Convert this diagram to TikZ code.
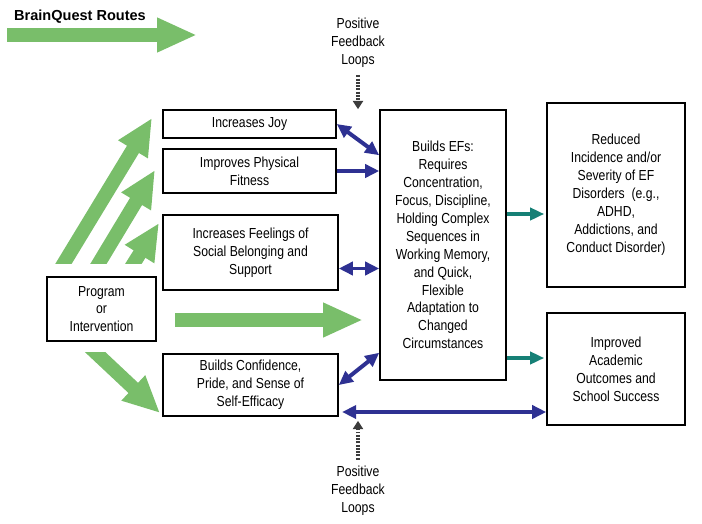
\documentclass[tikz,border=0pt]{standalone}
\usepackage{fontspec}
\setmainfont{Liberation Sans}
\newfontfamily\narrowfont{Liberation Sans}[FakeStretch=0.84]
\usetikzlibrary{arrows.meta}
\usetikzlibrary{calc}

\definecolor{routegreen}{RGB}{121,190,106}
\definecolor{loopblue}{RGB}{46,49,146}
\definecolor{outteal}{RGB}{22,128,118}
\definecolor{dotgray}{RGB}{60,60,60}

\tikzset{
	box/.style={draw=black, line width=1.3pt, fill=white, align=center, inner sep=0pt,
		font=\narrowfont\fontsize{12.4}{15.3}\selectfont},
	fbtext/.style={align=center, inner sep=2pt, font=\narrowfont\fontsize{12.4}{15.3}\selectfont},
	route/.style={draw=routegreen, line width=0.42cm, -{Triangle[length=1.1cm, width=0.96cm]}},
	loop/.style={draw=loopblue, line width=3.4pt,
		{Triangle[length=0.42cm, width=0.39cm]}-{Triangle[length=0.42cm, width=0.39cm]}},
	loopone/.style={draw=loopblue, line width=3.4pt, -{Triangle[length=0.42cm, width=0.39cm]}},
	outarr/.style={draw=outteal, line width=3.2pt, -{Triangle[length=0.42cm, width=0.36cm]}},
	fbarr/.style={draw=dotgray, line width=3.2pt, dash pattern=on 1.7pt off 1.1pt,
		-{Triangle[length=0.25cm, width=0.3cm]}}
}

\begin{document}
\begin{tikzpicture}[x=0.03cm, y=-0.03cm]
	\useasboundingbox (0,0) rectangle (702,523);

	\node[anchor=west, inner sep=0pt, font=\bfseries\fontsize{12.4}{15}\selectfont] (title) at (14,17) {BrainQuest Routes};
	\coordinate (lg1) at (7,35);
	\coordinate (lg2) at (197,35);
	\draw[route, -{Triangle[length=1.2cm, width=0.96cm]}] (lg1) -- (lg2);

	\node[box, minimum width=5.19cm, minimum height=0.84cm] (joy) at (249.5,124) {Increases Joy};
	\node[box, minimum width=5.19cm, minimum height=1.32cm] (fit) at (249.5,171) {Improves Physical\\Fitness};
	\node[box, minimum width=5.25cm, minimum height=2.25cm] (soc) at (250.5,252.5) {Increases Feelings of\\Social Belonging and\\Support};
	\node[box, minimum width=3.27cm, minimum height=1.92cm] (prog) at (101.5,309) {Program\\or\\Intervention};
	\node[box, minimum width=5.25cm, minimum height=1.86cm] (conf) at (250.5,385) {Builds Confidence,\\Pride, and Sense of\\Self-Efficacy};
	\node[box, minimum width=3.78cm, minimum height=8.1cm] (efs) at (443,245) {Builds EFs:\\Requires\\Concentration,\\Focus, Discipline,\\Holding Complex\\Sequences in\\Working Memory,\\and Quick,\\Flexible\\Adaptation to\\Changed\\Circumstances};
	\node[box, minimum width=4.14cm, minimum height=5.52cm] (red) at (616,195) {Reduced\\Incidence and/or\\Severity of EF\\Disorders~ (e.g.,\\ADHD,\\Addictions, and\\Conduct Disorder)};
	\node[box, minimum width=4.14cm, minimum height=3.36cm] (imp) at (616,369) {Improved\\Academic\\Outcomes and\\School Success};

	\node[fbtext] (fbtop) at (358,43) {Positive\\Feedback\\Loops};
	\node[fbtext] (fbbot) at (358,491) {Positive\\Feedback\\Loops};

	\coordinate (g1s) at (47.6,290);
	\coordinate (g1) at (152,118);
	\coordinate (g2s) at (82.7,290);
	\coordinate (g2) at (155,170);
	\coordinate (g3s) at (117,290);
	\coordinate (g3) at (159,223);
	\coordinate (g4s) at (71.6,330);
	\coordinate (g4) at (160,413);
	\coordinate (mid1) at (175,320);
	\coordinate (mid2) at (363,320);

	\begin{scope}
		\clip (0,0) rectangle (702,263);
		\draw[route] (g1s) -- (g1);
		\draw[route] (g2s) -- (g2);
		\draw[route] (g3s) -- (g3);
	\end{scope}
	\begin{scope}
		\clip (0,352) rectangle (702,523);
		\draw[route] (g4s) -- (g4);
	\end{scope}
	\draw[route, -{Triangle[length=1.2cm, width=0.96cm]}] (mid1) -- (mid2);

	\coordinate (sx) at ($(soc.east)+(0,16)$);
	\coordinate (bx) at ($(imp.west)+(0,43)$);
	\coordinate (tx1) at ($(red.west)+(0,19)$);
	\coordinate (tx2) at ($(imp.west)+(0,-11)$);

	\draw[loop] (joy.east) -- ($(efs.north west)+(0,46)$);
	\draw[loopone] (fit.east) -- (fit.east -| efs.west);
	\draw[loop] (sx) -- (sx -| efs.west);
	\draw[loop] (conf.east) -- ($(efs.south west)+(0,-28)$);
	\draw[loop, shorten <=0.1cm] (bx -| conf.east) -- (bx);

	\draw[outarr, shorten >=0.06cm] (tx1 -| efs.east) -- (tx1);
	\draw[outarr, shorten >=0.06cm] (tx2 -| efs.east) -- (tx2);

	\draw[fbarr, shorten <=0.15cm] (fbtop.south) -- (fbtop.south |- efs.north);
	\draw[fbarr, shorten <=0.12cm, shorten >=0.12cm] (fbbot.north) -- (fbbot.north |- conf.south);
\end{tikzpicture}
\end{document}
